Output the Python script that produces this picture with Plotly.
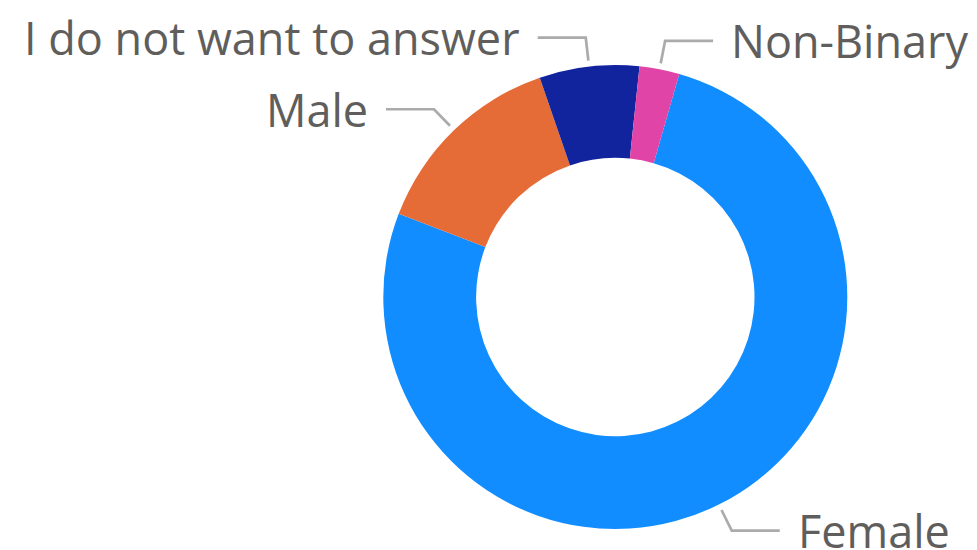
import math
import plotly.graph_objects as go

# Survey responses by gender
categories = ["Female", "Male", "I do not want to answer", "Non-Binary"]
counts = [55, 10, 5, 2]
colors = ["#118DFF", "#E66C37", "#12239E", "#E044A7"]

W, H = 977, 550
CX, CY = 615.3, 297.0          # donut centre (px, from top-left)
R_OUT = 232.0                  # outer radius (px)
HOLE = 0.6
START_DEG = 16.0               # first slice begins this far clockwise from 12 o'clock

LINE_R0, LINE_R1 = 238.0, 261.0  # radial part of the leader line
ELBOW_LEN = 48.0                 # horizontal part of the leader line
TEXT_GAP = 16.0
LABEL_COLOR = "#605E5C"
LINE_COLOR = "#ABABAB"
FONT = "Segoe UI, Open Sans, sans-serif"
FONT_SIZE = 45


def px(x):
    return x / W


def py(y):
    return 1 - y / H


fig = go.Figure()
fig.add_trace(go.Pie(
    labels=categories,
    values=counts,
    hole=HOLE,
    sort=False,
    direction="clockwise",
    rotation=START_DEG,
    marker=dict(colors=colors, line=dict(width=0)),
    textinfo="none",
    hoverinfo="label+value+percent",
    showlegend=False,
    domain=dict(x=[px(CX - R_OUT), px(CX + R_OUT)],
                y=[py(CY + R_OUT), py(CY - R_OUT)]),
))

# Leader lines and outside labels, placed at each slice's mid-angle
total = sum(counts)
acc = 0.0
shapes, annotations = [], []
for name, v in zip(categories, counts):
    mid = math.radians(START_DEG + 360.0 * (acc + v / 2) / total)
    acc += v
    s, c = math.sin(mid), math.cos(mid)
    x0, y0 = CX + LINE_R0 * s, CY - LINE_R0 * c
    x1, y1 = CX + LINE_R1 * s, CY - LINE_R1 * c
    side = 1 if s >= 0 else -1
    x2 = x1 + side * ELBOW_LEN
    path = (f"M {px(x0)} {py(y0)} L {px(x1)} {py(y1)} L {px(x2)} {py(y1)}")
    shapes.append(dict(type="path", xref="paper", yref="paper", path=path,
                       line=dict(color=LINE_COLOR, width=2.7)))
    annotations.append(dict(
        x=px(x2 + side * TEXT_GAP), y=py(y1), xref="paper", yref="paper",
        text=name, showarrow=False,
        xanchor="left" if side > 0 else "right", yanchor="middle",
        font=dict(family=FONT, size=FONT_SIZE, color=LABEL_COLOR),
    ))

fig.update_layout(
    width=W, height=H,
    margin=dict(l=0, r=0, t=0, b=0),
    paper_bgcolor="white",
    plot_bgcolor="white",
    shapes=shapes,
    annotations=annotations,
)

fig.write_html("out.html")
